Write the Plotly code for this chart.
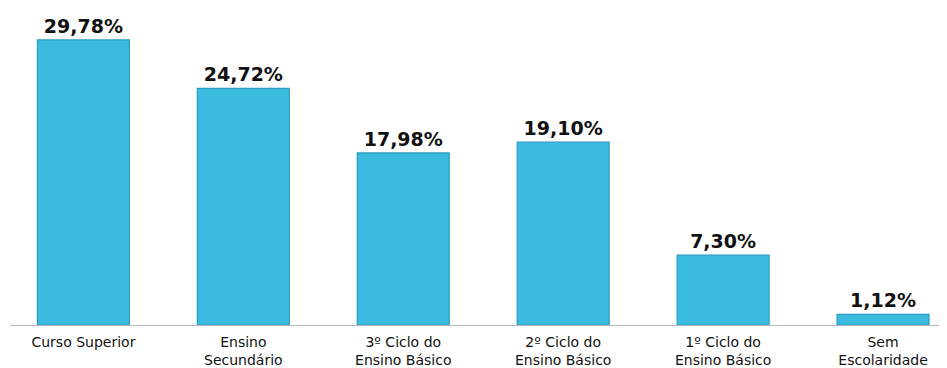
import plotly.graph_objects as go

categories = ["Curso Superior", "Ensino<br>Secundário", "3º Ciclo do<br>Ensino Básico",
              "2º Ciclo do<br>Ensino Básico", "1º Ciclo do<br>Ensino Básico", "Sem<br>Escolaridade"]
values = [29.78, 24.72, 17.98, 19.10, 7.30, 1.12]
value_labels = ["29,78%", "24,72%", "17,98%", "19,10%", "7,30%", "1,12%"]

xpos = list(range(len(categories)))

fig = go.Figure()
fig.add_trace(go.Bar(
    x=xpos, y=values, width=0.575,
    marker=dict(color="#3bbbe0", line=dict(color="#2a9cc2", width=1.2)),
    text=value_labels, textposition="outside", cliponaxis=False,
    textfont=dict(family="DejaVu Sans", size=19, color="#111111", weight="bold"),
    hoverinfo="skip",
))

fig.update_layout(
    width=939, height=360,
    margin=dict(l=2, r=0, t=0, b=43),
    paper_bgcolor="white", plot_bgcolor="white",
    showlegend=False,
    xaxis=dict(range=[-0.459, 5.4], tickvals=xpos, ticktext=categories,
               showgrid=False, zeroline=False, showline=True, linecolor="#b8b8b8", linewidth=1,
               ticks="", ticklabelstandoff=4,
               tickfont=dict(family="DejaVu Sans", size=14, color="#111111"),
               fixedrange=True),
    yaxis=dict(range=[0, 33.12], visible=False, fixedrange=True),
)

fig.write_html("out.html")
